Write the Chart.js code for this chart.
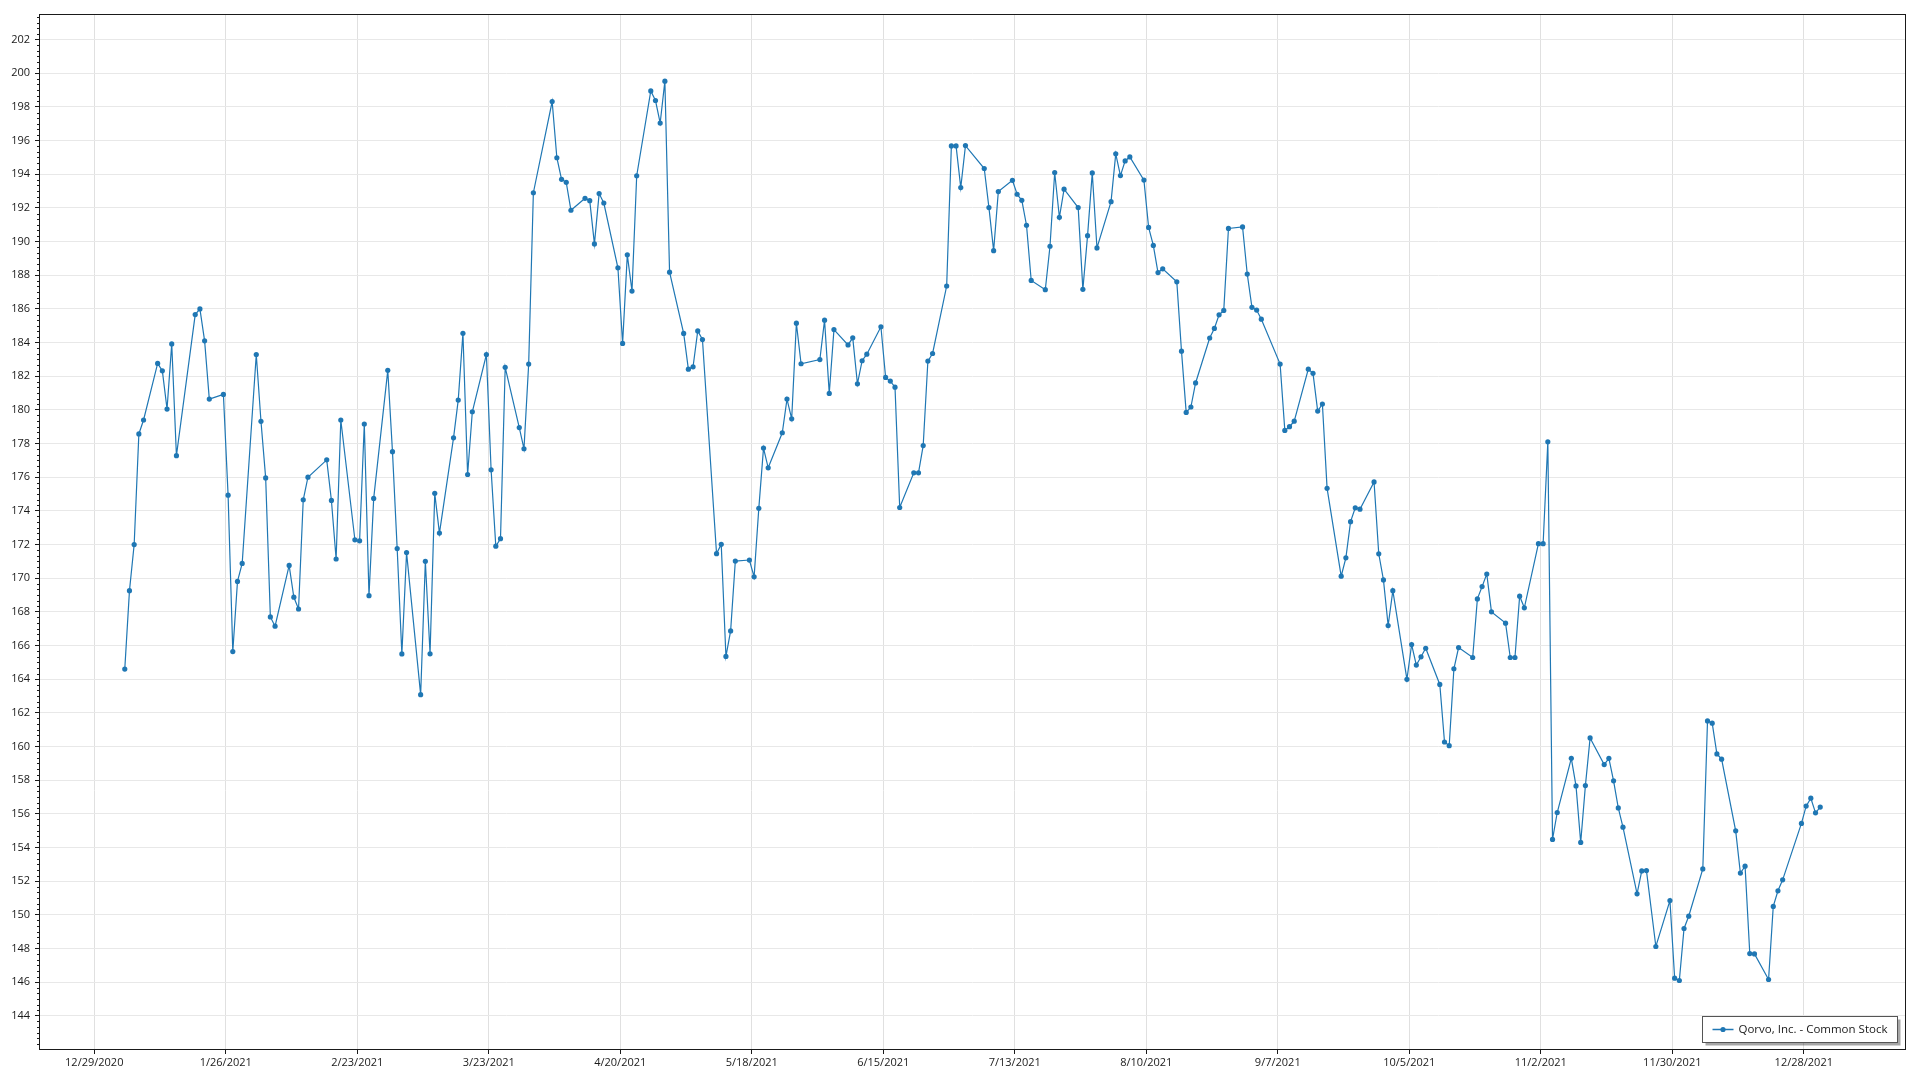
<!DOCTYPE html>
<html>
<head>
<meta charset="utf-8">
<title>Qorvo, Inc. - Common Stock</title>
<script src="https://cdn.jsdelivr.net/npm/chart.js@4.4.1/dist/chart.umd.min.js"></script>
<style>
  html, body { margin: 0; padding: 0; background: #fff; }
  canvas { display: block; }
</style>
</head>
<body>
<canvas id="grafico" width="1920" height="1080"></canvas>
<script>
// trading days of 2021 (M/D)
var dates = [
  '1/4','1/5','1/6','1/7','1/8','1/11','1/12','1/13','1/14','1/15','1/19','1/20','1/21','1/22','1/25','1/26','1/27','1/28','1/29',
  '2/1','2/2','2/3','2/4','2/5','2/8','2/9','2/10','2/11','2/12','2/16','2/17','2/18','2/19','2/22','2/23','2/24','2/25','2/26',
  '3/1','3/2','3/3','3/4','3/5','3/8','3/9','3/10','3/11','3/12','3/15','3/16','3/17','3/18','3/19','3/22','3/23','3/24','3/25','3/26','3/29','3/30','3/31',
  '4/1','4/5','4/6','4/7','4/8','4/9','4/12','4/13','4/14','4/15','4/16','4/19','4/20','4/21','4/22','4/23','4/26','4/27','4/28','4/29','4/30',
  '5/3','5/4','5/5','5/6','5/7','5/10','5/11','5/12','5/13','5/14','5/17','5/18','5/19','5/20','5/21','5/24','5/25','5/26','5/27','5/28',
  '6/1','6/2','6/3','6/4','6/7','6/8','6/9','6/10','6/11','6/14','6/15','6/16','6/17','6/18','6/21','6/22','6/23','6/24','6/25','6/28','6/29','6/30',
  '7/1','7/2','7/6','7/7','7/8','7/9','7/12','7/13','7/14','7/15','7/16','7/19','7/20','7/21','7/22','7/23','7/26','7/27','7/28','7/29','7/30',
  '8/2','8/3','8/4','8/5','8/6','8/9','8/10','8/11','8/12','8/13','8/16','8/17','8/18','8/19','8/20','8/23','8/24','8/25','8/26','8/27','8/30','8/31',
  '9/1','9/2','9/3','9/7','9/8','9/9','9/10','9/13','9/14','9/15','9/16','9/17','9/20','9/21','9/22','9/23','9/24','9/27','9/28','9/29','9/30',
  '10/1','10/4','10/5','10/6','10/7','10/8','10/11','10/12','10/13','10/14','10/15','10/18','10/19','10/20','10/21','10/22','10/25','10/26','10/27','10/28','10/29',
  '11/1','11/2','11/3','11/4','11/5','11/8','11/9','11/10','11/11','11/12','11/15','11/16','11/17','11/18','11/19','11/22','11/23','11/24','11/26','11/29','11/30',
  '12/1','12/2','12/3','12/6','12/7','12/8','12/9','12/10','12/13','12/14','12/15','12/16','12/17','12/20','12/21','12/22','12/23','12/27','12/28','12/29','12/30','12/31'
];

// closing prices, same order as dates
var prices = [
  164.6, 169.26, 172.0, 178.57, 179.4, 182.76, 182.32, 180.05, 183.92, 177.28, 185.66, 186.0, 184.1, 180.64, 180.92, 174.93, 165.64, 169.81, 170.88,
  183.29, 179.32, 175.96, 167.7, 167.15, 170.76, 168.87, 168.17, 174.66, 176.0, 177.03, 174.62, 171.14, 179.4, 172.28, 172.22, 179.16, 168.96, 174.74,
  182.35, 177.52, 171.76, 165.5, 171.52, 163.08, 171.0, 165.51, 175.04, 172.68, 178.34, 180.58, 184.55, 176.16, 179.89, 183.29, 176.44, 171.9, 172.35, 182.53, 178.95, 177.69, 182.72,
  192.9, 198.32, 194.98, 193.7, 193.52, 191.86, 192.57, 192.43, 189.86, 192.85, 192.29, 188.44, 183.95, 189.21, 187.06, 193.91, 198.95, 198.38, 197.04, 199.53, 188.18,
  184.54, 182.42, 182.56, 184.69, 184.18, 171.46, 172.01, 165.35, 166.87, 171.02, 171.08, 170.08, 174.15, 177.73, 176.56, 178.64, 180.64, 179.47, 185.15, 182.74,
  182.99, 185.33, 180.98, 184.77, 183.86, 184.28, 181.55, 182.92, 183.31, 184.94, 181.93, 181.71, 181.35, 174.2, 176.26, 176.26, 177.88, 182.9, 183.35, 187.36, 195.68, 195.68,
  193.21, 195.7, 194.34, 192.02, 189.46, 192.97, 193.64, 192.81, 192.45, 190.97, 187.69, 187.14, 189.72, 194.1, 191.44, 193.11, 192.02, 187.16, 190.35, 194.08, 189.62,
  192.37, 195.21, 193.92, 194.79, 195.03, 193.65, 190.84, 189.77, 188.16, 188.38, 187.61, 183.49, 179.85, 180.17, 181.6, 184.27, 184.84, 185.65, 185.91, 190.78, 190.87, 188.07,
  186.09, 185.93, 185.39, 182.72, 178.78, 179.0, 179.33, 182.42, 182.17, 179.93, 180.35, 175.34, 170.12, 171.21, 173.36, 174.18, 174.1, 175.72, 171.45, 169.9, 167.19,
  169.26, 163.99, 166.06, 164.84, 165.33, 165.84, 163.69, 160.27, 160.05, 164.62, 165.88, 165.29, 168.77, 169.5, 170.25, 168.0, 167.33, 165.29, 165.29, 168.93, 168.24,
  172.05, 172.05, 178.1, 154.48, 156.08, 159.3, 157.66, 154.3, 157.68, 160.51, 158.93, 159.3, 157.96, 156.35, 155.21, 151.25, 152.61, 152.63, 148.12, 150.85, 146.24,
  146.1, 149.19, 149.92, 152.73, 161.52, 161.39, 159.56, 159.25, 154.99, 152.48, 152.89, 147.7, 147.68, 146.16, 150.5, 151.43, 152.08, 155.43, 156.46, 156.93, 156.06, 156.4
];

// axis labels
var xTickLabels = ['12/29/2020','1/26/2021','2/23/2021','3/23/2021','4/20/2021','5/18/2021','6/15/2021',
                   '7/13/2021','8/10/2021','9/7/2021','10/5/2021','11/2/2021','11/30/2021','12/28/2021'];
var yTickLabels = [144,146,148,150,152,154,156,158,160,162,164,166,168,170,172,174,176,178,180,182,184,186,188,190,192,194,196,198,200,202];

var seriesName = 'Qorvo, Inc. - Common Stock';
var cor = '#1f77b4';
var fonte = "'Open Sans', 'Noto Sans', sans-serif";

// day number from a date string
function diaNum(texto, ano) {
  var p = texto.split('/');
  var y = p.length > 2 ? parseInt(p[2]) : ano;
  return Date.UTC(y, parseInt(p[0]) - 1, parseInt(p[1])) / 86400000;
}
function diaTexto(n) {
  var d = new Date(Math.round(n) * 86400000);
  return (d.getUTCMonth() + 1) + '/' + d.getUTCDate() + '/' + d.getUTCFullYear();
}

var pontos = [];
for (var i = 0; i < dates.length; i++) {
  // points sit at midday
  pontos.push({ x: diaNum(dates[i], 2021) + 0.5, y: prices[i] });
}
var xTicks = xTickLabels.map(function (t) { return diaNum(t); });
var span = pontos[pontos.length - 1].x - pontos[0].x;
var xMin = pontos[0].x - span * 0.05;
var xMax = pontos[pontos.length - 1].x + span * 0.05;

// minor ticks, frame and legend box
var extras = {
  id: 'extras',
  afterDraw: function (chart) {
    var ctx = chart.ctx, a = chart.chartArea, ys = chart.scales.y;
    ctx.save();
    ctx.strokeStyle = '#1a1a1a';
    ctx.lineWidth = 1;
    for (var k = -12; k <= 200; k++) {
      var v = 144 + k / 3;
      if (v < ys.min || v > ys.max || k % 6 == 0) continue;
      var py = Math.round(ys.getPixelForValue(v)) + 0.5;
      ctx.beginPath();
      ctx.moveTo(a.left - 3, py);
      ctx.lineTo(a.left, py);
      ctx.stroke();
    }
    ctx.strokeRect(a.left - 0.5, a.top - 0.5, a.right - a.left + 1, a.bottom - a.top + 1);

    // legend
    var bx = 1702.5, by = 1016.5, bw = 195, bh = 26;
    ctx.fillStyle = 'rgba(0,0,0,0.35)';
    ctx.fillRect(bx + 3, by + 3, bw, bh);
    ctx.fillStyle = '#fff';
    ctx.fillRect(bx, by, bw, bh);
    ctx.strokeStyle = '#555';
    ctx.strokeRect(bx, by, bw, bh);
    var ly = by + bh / 2;
    ctx.strokeStyle = cor;
    ctx.lineWidth = 1.5;
    ctx.beginPath();
    ctx.moveTo(bx + 10, ly);
    ctx.lineTo(bx + 31, ly);
    ctx.stroke();
    ctx.fillStyle = cor;
    ctx.beginPath();
    ctx.arc(bx + 20.5, ly, 2.6, 0, Math.PI * 2);
    ctx.fill();
    ctx.fillStyle = '#1a1a1a';
    ctx.font = '11.5px ' + fonte;
    ctx.textBaseline = 'middle';
    ctx.textAlign = 'left';
    ctx.fillText(seriesName, bx + 36, ly + 0.5);
    ctx.restore();
  }
};

var ctx = document.getElementById('grafico').getContext('2d');
var chart = new Chart(ctx, {
  type: 'line',
  data: {
    datasets: [
      {
        label: seriesName,
        data: pontos,
        borderColor: cor,
        backgroundColor: cor,
        borderWidth: 1.2,
        pointRadius: 2.6,
        pointBorderWidth: 0,
        pointBackgroundColor: cor,
        tension: 0,
        fill: false
      }
    ]
  },
  options: {
    responsive: false,
    animation: false,
    devicePixelRatio: 1,
    layout: { padding: { top: 15, right: 15, left: 0, bottom: 0 } },
    plugins: {
      legend: { display: false },
      tooltip: { enabled: false }
    },
    scales: {
      x: {
        type: 'linear',
        min: xMin,
        max: xMax,
        afterBuildTicks: function (s) {
          s.ticks = xTicks.map(function (v) { return { value: v }; });
        },
        afterFit: function (s) { s.height = 31; },
        ticks: {
          autoSkip: false,
          maxRotation: 0,
          padding: 2,
          color: '#1a1a1a',
          font: { family: fonte, size: 11 },
          callback: function (v) { return diaTexto(v); }
        },
        grid: { color: '#e0e0e0', tickColor: '#1a1a1a', tickLength: 5 },
        border: { display: false }
      },
      y: {
        min: 142.03,
        max: 203.46,
        afterBuildTicks: function (s) {
          s.ticks = yTickLabels.map(function (v) { return { value: v }; });
        },
        afterFit: function (s) { s.width = 40; },
        ticks: {
          padding: 5,
          color: '#1a1a1a',
          font: { family: fonte, size: 11 },
          callback: function (v) { return String(v); }
        },
        grid: { color: '#e8e8e8', tickColor: '#1a1a1a', tickLength: 5 },
        border: { display: false }
      }
    }
  },
  plugins: [extras]
});
</script>
</body>
</html>
